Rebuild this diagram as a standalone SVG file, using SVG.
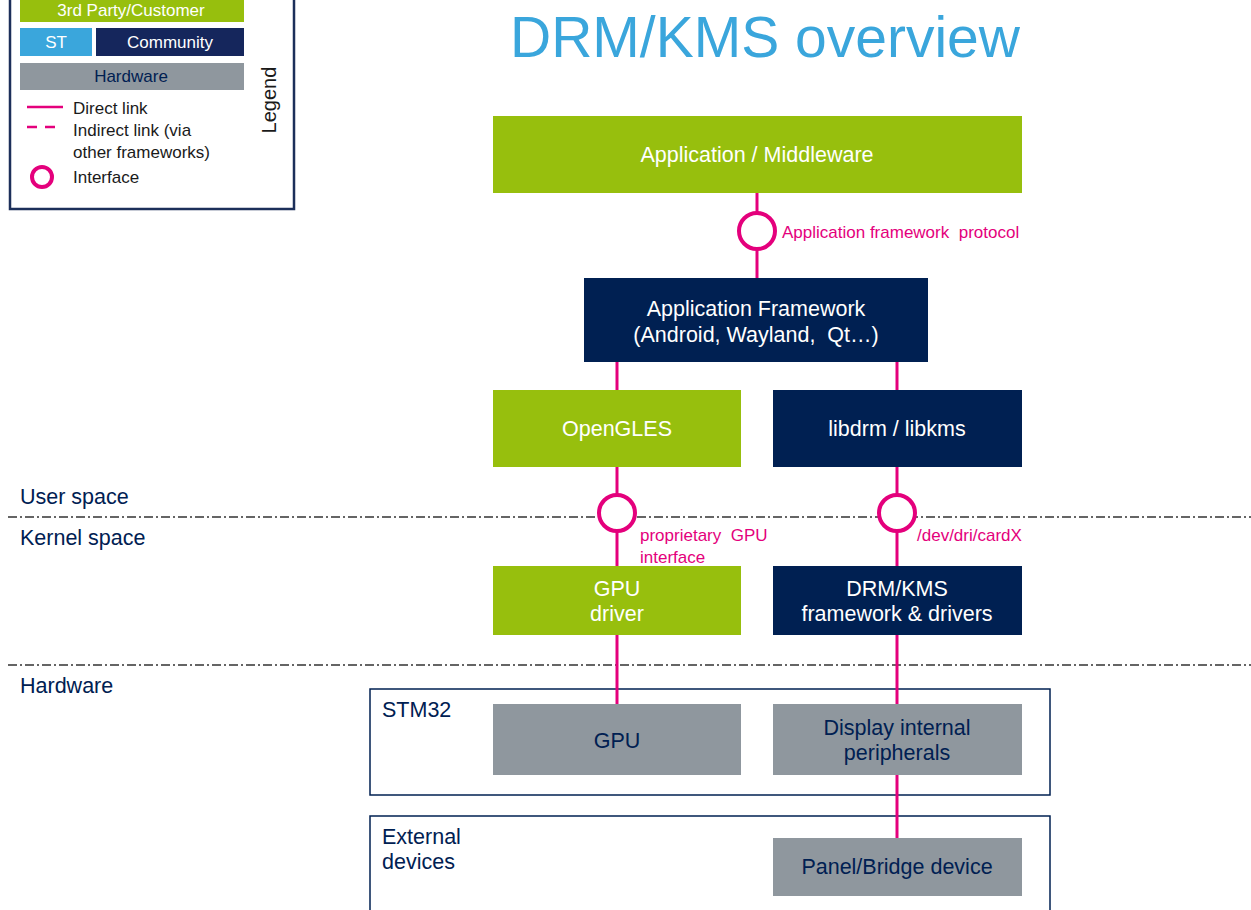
<svg xmlns="http://www.w3.org/2000/svg" width="1251" height="910" viewBox="0 0 1251 910">
<style>
text{font-family:"Liberation Sans",Arial,sans-serif;white-space:pre}
.g{fill:#97bf0d}.n{fill:#002052}.h{fill:#8f979e}.s{fill:#3aa6dc}
.wt{fill:#ffffff;font-size:21.5px;text-anchor:middle}
.nt{fill:#002052;font-size:21.5px;text-anchor:middle}
.lt{fill:#1a1a1a;font-size:17px}
.pk{fill:#e4007c;font-size:17px}
.lbl{fill:#002052;font-size:21.5px}
.ln{stroke:#e4007c;stroke-width:3;fill:none}
.ifc{stroke:#e4007c;stroke-width:4;fill:#ffffff}
.dd{stroke:#333333;stroke-width:1.3;stroke-dasharray:9 3 2 3;fill:none}
.box{fill:none;stroke:#002052;stroke-width:1.5}
</style>
<rect width="1251" height="910" fill="#ffffff"/>
<g id="legend">
<rect x="10" y="-10" width="284" height="219" fill="#ffffff" stroke="#1c2f5a" stroke-width="2.5"/>
<rect class="g" x="20" y="-5" width="224" height="27"/>
<text x="131" y="16" font-size="17" fill="#ffffff" text-anchor="middle">3rd Party/Customer</text>
<rect class="s" x="20" y="28" width="72" height="28"/>
<text x="56" y="48" font-size="17" fill="#ffffff" text-anchor="middle">ST</text>
<rect x="96" y="28" width="148" height="28" fill="#15265c"/>
<text x="170" y="48" font-size="17" fill="#ffffff" text-anchor="middle">Community</text>
<rect class="h" x="20" y="63" width="224" height="27"/>
<text x="131" y="82" font-size="17" fill="#002052" text-anchor="middle">Hardware</text>
<line x1="27" y1="107" x2="63" y2="107" stroke="#e4007c" stroke-width="2.5"/>
<line x1="27" y1="127" x2="63" y2="127" stroke="#e4007c" stroke-width="2.5" stroke-dasharray="10 8"/>
<circle cx="42" cy="177" r="10" fill="none" stroke="#e4007c" stroke-width="4"/>
<text class="lt" x="73" y="114">Direct link</text>
<text class="lt" x="73" y="136">Indirect link (via</text>
<text class="lt" x="73" y="158">other frameworks)</text>
<text class="lt" x="73" y="183">Interface</text>
<text class="lt" x="0" y="0" text-anchor="middle" transform="translate(276,100) rotate(-90)" style="font-size:20px">Legend</text>
</g>
<text x="765" y="57" font-size="57" fill="#3aa6dc" text-anchor="middle">DRM/KMS overview</text>
<g id="layers">
<line class="dd" x1="8" y1="517" x2="1251" y2="517"/>
<line class="dd" x1="8" y1="665" x2="1251" y2="665"/>
<text class="lbl" x="20" y="504">User space</text>
<text class="lbl" x="20" y="545">Kernel space</text>
<text class="lbl" x="20" y="693">Hardware</text>
</g>
<g id="stm32"><rect class="box" x="370" y="689" width="680" height="106"/><text class="lbl" x="382" y="717">STM32</text></g>
<g id="external"><rect class="box" x="370" y="816" width="680" height="110"/><text class="lbl" x="382" y="844">External</text><text class="lbl" x="382" y="869">devices</text></g>
<g id="connectors">
<line class="ln" x1="757" y1="193" x2="757" y2="278"/>
<line class="ln" x1="617" y1="362" x2="617" y2="390"/>
<line class="ln" x1="897" y1="362" x2="897" y2="390"/>
<line class="ln" x1="617" y1="467" x2="617" y2="566"/>
<line class="ln" x1="897" y1="467" x2="897" y2="566"/>
<line class="ln" x1="617" y1="635" x2="617" y2="704"/>
<line class="ln" x1="897" y1="635" x2="897" y2="704"/>
<line class="ln" x1="897" y1="775" x2="897" y2="838"/>
<circle class="ifc" cx="757" cy="231" r="18"/>
<circle class="ifc" cx="617" cy="513" r="18"/>
<circle class="ifc" cx="897" cy="513" r="18"/>
<text class="pk" x="782" y="238">Application framework  protocol</text>
<text class="pk" x="640" y="541">proprietary  GPU</text>
<text class="pk" x="640" y="563">interface</text>
<text class="pk" x="917" y="541">/dev/dri/cardX</text>
</g>
<g id="app"><rect class="g" x="493" y="116" width="529" height="77"/><text class="wt" x="757" y="162">Application / Middleware</text></g>
<g id="appfw"><rect class="n" x="584" y="278" width="344" height="84"/><text class="wt" x="756" y="316">Application Framework</text><text class="wt" x="756" y="342">(Android, Wayland,  Qt…)</text></g>
<g id="opengles"><rect class="g" x="493" y="390" width="248" height="77"/><text class="wt" x="617" y="436">OpenGLES</text></g>
<g id="libdrm"><rect class="n" x="773" y="390" width="249" height="77"/><text class="wt" x="897" y="436">libdrm / libkms</text></g>
<g id="gpudrv"><rect class="g" x="493" y="566" width="248" height="69"/><text class="wt" x="617" y="596">GPU</text><text class="wt" x="617" y="621">driver</text></g>
<g id="drmkms"><rect class="n" x="773" y="566" width="249" height="69"/><text class="wt" x="897" y="596">DRM/KMS</text><text class="wt" x="897" y="621">framework &amp; drivers</text></g>
<g id="gpu"><rect class="h" x="493" y="704" width="248" height="71"/><text class="nt" x="617" y="748">GPU</text></g>
<g id="display"><rect class="h" x="773" y="704" width="249" height="71"/><text class="nt" x="897" y="735">Display internal</text><text class="nt" x="897" y="760">peripherals</text></g>
<g id="panel"><rect class="h" x="773" y="838" width="249" height="58"/><text class="nt" x="897" y="874">Panel/Bridge device</text></g>
</svg>
